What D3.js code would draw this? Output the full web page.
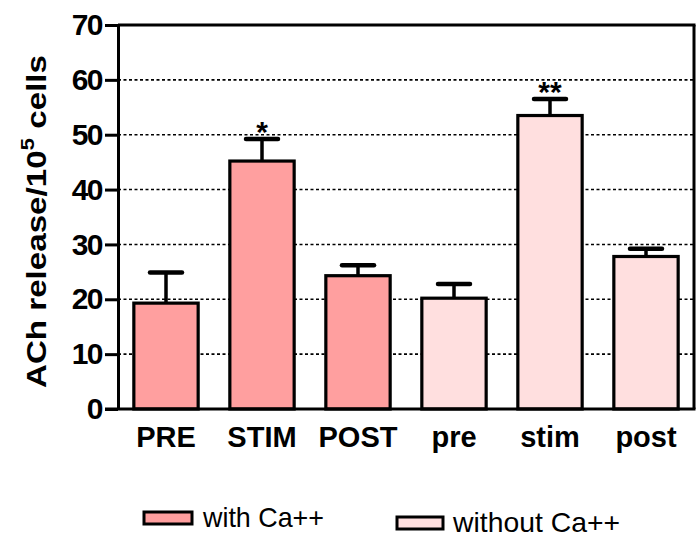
<!DOCTYPE html>
<html>
<head>
<meta charset="utf-8">
<script src="https://cdn.jsdelivr.net/npm/d3@7"></script>
<style>
  body { margin: 0; background: #fff; }
  svg { display: block; font-family: "Liberation Sans", Arial, sans-serif; }
</style>
</head>
<body>
<figure id="ach-chart" style="margin:0"></figure>
<script>
// values
const categories = ['PRE', 'STIM', 'POST', 'pre', 'stim', 'post'];
const means = [19.3, 45.2, 24.3, 20.2, 53.5, 27.8];
const errTops = [24.9, 49.2, 26.2, 22.8, 56.5, 29.2];
const groups = ['with', 'with', 'with', 'without', 'without', 'without'];
const stars = ['', '*', '', '', '**', ''];
const yTicks = [0, 10, 20, 30, 40, 50, 60, 70];
const gridValues = [10, 20, 30, 40, 50, 60];
const legendLabels = ['with Ca++', 'without Ca++'];

const width = 696, height = 540;
const plotLeft = 118, plotRight = 694, plotTop = 25, plotBottom = 409;

const colors = { with: '#ff9f9f', without: '#ffdfdf' };

const svg = d3.select('figure#ach-chart')
  .append('svg')
  .attr('width', width)
  .attr('height', height);

const x = d3.scaleBand()
  .domain(categories)
  .range([plotLeft, plotRight])
  .paddingInner(0.33)
  .paddingOuter(0.165);

const y = d3.scaleLinear()
  .domain([0, 70])
  .range([plotBottom, plotTop]);

// dotted grid
svg.selectAll('line.grid')
  .data(gridValues)
  .enter()
  .append('line')
  .attr('class', 'grid')
  .attr('x1', plotLeft).attr('x2', plotRight)
  .attr('y1', d => y(d)).attr('y2', d => y(d))
  .attr('stroke', '#000')
  .attr('stroke-width', 1.6)
  .attr('stroke-dasharray', '3,2.5');

// frame top and right
svg.append('line')
  .attr('x1', plotLeft).attr('x2', plotRight + 1.5)
  .attr('y1', y(70)).attr('y2', y(70))
  .attr('stroke', '#000').attr('stroke-width', 3);
svg.append('line')
  .attr('x1', plotRight).attr('x2', plotRight)
  .attr('y1', y(70)).attr('y2', y(0))
  .attr('stroke', '#000').attr('stroke-width', 3);

// error bars (upper only)
const data = categories.map((c, i) => ({ c, m: means[i], e: errTops[i], g: groups[i], s: stars[i] }));
const cx = d => x(d.c) + x.bandwidth() / 2;

svg.selectAll('line.err')
  .data(data)
  .enter()
  .append('line')
  .attr('class', 'err')
  .attr('x1', cx).attr('x2', cx)
  .attr('y1', d => y(d.m)).attr('y2', d => y(d.e))
  .attr('stroke', '#000').attr('stroke-width', 3.5);

svg.selectAll('line.cap')
  .data(data)
  .enter()
  .append('line')
  .attr('class', 'cap')
  .attr('x1', d => cx(d) - 16).attr('x2', d => cx(d) + 16)
  .attr('y1', d => y(d.e)).attr('y2', d => y(d.e))
  .attr('stroke', '#000').attr('stroke-width', 4.5)
  .attr('stroke-linecap', 'round');

// bars
svg.selectAll('rect.bar')
  .data(data)
  .enter()
  .append('rect')
  .attr('class', 'bar')
  .attr('x', d => x(d.c))
  .attr('y', d => y(d.m))
  .attr('width', x.bandwidth())
  .attr('height', d => y(0) - y(d.m))
  .attr('fill', d => colors[d.g])
  .attr('stroke', '#000')
  .attr('stroke-width', 3.2);

// significance stars
svg.selectAll('text.star')
  .data(data.filter(d => d.s))
  .enter()
  .append('text')
  .attr('class', 'star')
  .attr('x', cx)
  .attr('y', d => y(d.e) + 3)
  .attr('text-anchor', 'middle')
  .style('font-size', '30px')
  .style('font-weight', 'bold')
  .text(d => d.s);

// y axis
const yAxis = svg.append('g')
  .attr('transform', 'translate(' + plotLeft + ',0)')
  .call(d3.axisLeft(y).tickValues(yTicks).tickSize(13).tickSizeOuter(0).tickPadding(3));
yAxis.select('.domain').attr('stroke-width', 3);
yAxis.selectAll('.tick line').attr('stroke-width', 3);
yAxis.selectAll('.tick text')
  .style('font-size', '30px')
  .style('font-weight', 'bold')
  .style('font-family', '"Liberation Sans", Arial, sans-serif')
  .attr('letter-spacing', -1.5)
  .attr('fill', '#000');

// x axis
const xAxis = svg.append('g')
  .attr('transform', 'translate(0,' + plotBottom + ')')
  .call(d3.axisBottom(x).tickSize(0).tickPadding(17));
xAxis.select('.domain').remove();
xAxis.selectAll('.tick text')
  .style('font-size', '29px')
  .style('font-weight', 'bold')
  .style('font-family', '"Liberation Sans", Arial, sans-serif')
  .attr('fill', '#000');
svg.append('line')
  .attr('x1', plotLeft - 13).attr('x2', plotRight + 1.5)
  .attr('y1', plotBottom).attr('y2', plotBottom)
  .attr('stroke', '#000').attr('stroke-width', 3);

// y axis title
const yTitle = svg.append('text')
  .attr('transform', 'translate(46,221.5) rotate(-90)')
  .attr('text-anchor', 'middle')
  .attr('textLength', 333)
  .attr('lengthAdjust', 'spacingAndGlyphs')
  .style('font-size', '28px')
  .style('font-weight', 'bold');
yTitle.append('tspan').text('ACh release/10');
yTitle.append('tspan').attr('dy', -12).style('font-size', '19px').text('5');
yTitle.append('tspan').attr('dy', 12).text(' cells');

// legend
const legendPos = [{ x: 144, y: 512, tx: 203, ty: 527, tl: 121 }, { x: 397, y: 517, tx: 453, ty: 532, tl: 167 }];
const legendKeys = ['with', 'without'];
const legend = svg.selectAll('g.legend')
  .data(legendLabels)
  .enter()
  .append('g')
  .attr('class', 'legend');
legend.append('rect')
  .attr('x', (d, i) => legendPos[i].x)
  .attr('y', (d, i) => legendPos[i].y)
  .attr('width', (d, i) => i === 0 ? 48 : 46)
  .attr('height', 12)
  .attr('fill', (d, i) => colors[legendKeys[i]])
  .attr('stroke', '#000')
  .attr('stroke-width', 3);
legend.append('text')
  .attr('x', (d, i) => legendPos[i].tx)
  .attr('y', (d, i) => legendPos[i].ty)
  .attr('textLength', (d, i) => legendPos[i].tl)
  .attr('lengthAdjust', 'spacingAndGlyphs')
  .style('font-size', '28px')
  .text(d => d);
</script>
</body>
</html>
